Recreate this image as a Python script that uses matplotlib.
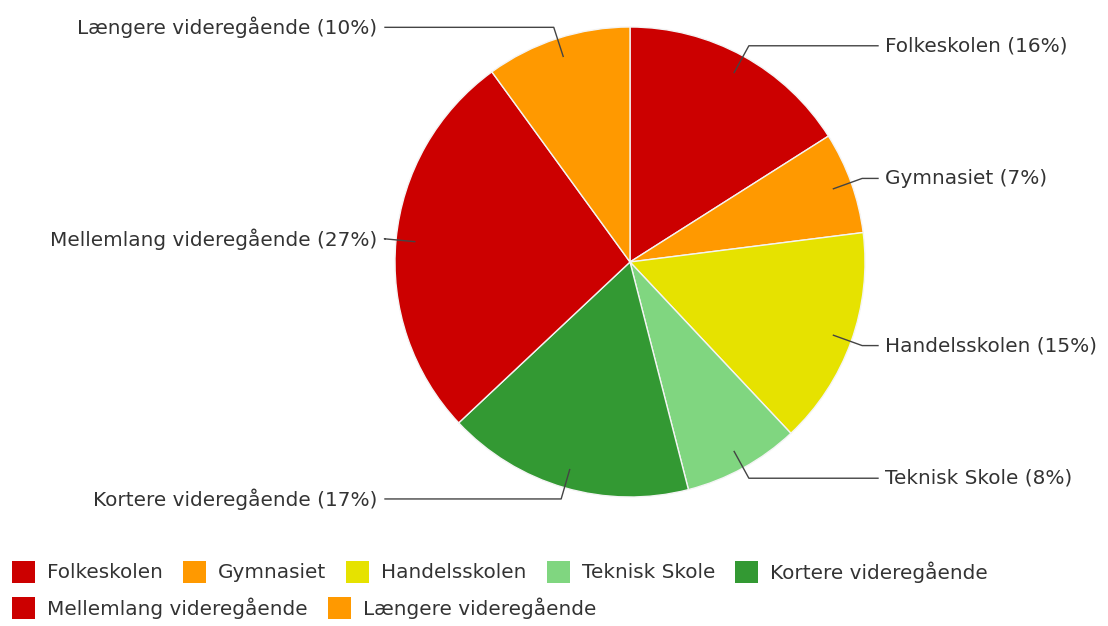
import numpy as np
import matplotlib.pyplot as plt
from matplotlib.patches import Rectangle

# Uddannelse - fordeling i procent
categories = ["Folkeskolen", "Gymnasiet", "Handelsskolen", "Teknisk Skole",
              "Kortere videregående", "Mellemlang videregående", "Længere videregående"]
shares = [16, 7, 15, 8, 17, 27, 10]
colors = ["#CC0000", "#FF9900", "#E6E200", "#80D680", "#339933", "#CC0000", "#FF9900"]

W, H = 1108, 626
fig = plt.figure(figsize=(W / 100, H / 100), dpi=100)
ax = fig.add_axes([0, 0, 1, 1])

cx, cy, R = 630, H - 262, 235
wedges, _ = ax.pie(shares, colors=colors, startangle=90, counterclock=False,
                   center=(cx, cy), radius=R, frame=True,
                   wedgeprops=dict(edgecolor="#f4f4f4", linewidth=1))
ax.set_xlim(0, W)
ax.set_ylim(0, H)
ax.set_aspect("equal")
ax.axis("off")

txt_color = "#333333"
line_color = "#444444"
fs = 14.4

for w, name, val in zip(wedges, categories, shares):
    mid = np.deg2rad((w.theta1 + w.theta2) / 2)
    x0, y0 = cx + 0.92 * R * np.cos(mid), cy + 0.92 * R * np.sin(mid)
    x1, y1 = cx + 1.05 * R * np.cos(mid), cy + 1.05 * R * np.sin(mid)
    right = np.cos(mid) >= 0
    x2 = cx + 248 if right else cx - 245
    ax.plot([x0, x1, x2], [y0, y1, y1], color=line_color, lw=1)
    ax.text(x2 + (7 if right else -8), y1, f"{name} ({val}%)",
            ha="left" if right else "right", va="center",
            fontsize=fs, color=txt_color)

# legend in two rows, laid out by measured text width
renderer = fig.canvas.get_renderer()
rows = [range(0, 5), range(5, 7)]
row_y = [H - 572, H - 608]
for r, idx in enumerate(rows):
    x = 12
    for i in idx:
        ax.add_patch(Rectangle((x, row_y[r] - 11), 23, 22, color=colors[i], lw=0))
        t = ax.text(x + 35, row_y[r], categories[i], ha="left", va="center",
                    fontsize=fs, color=txt_color)
        bb = t.get_window_extent(renderer=renderer)
        x = bb.x1 + 20

fig.savefig("out.png", dpi=100)
